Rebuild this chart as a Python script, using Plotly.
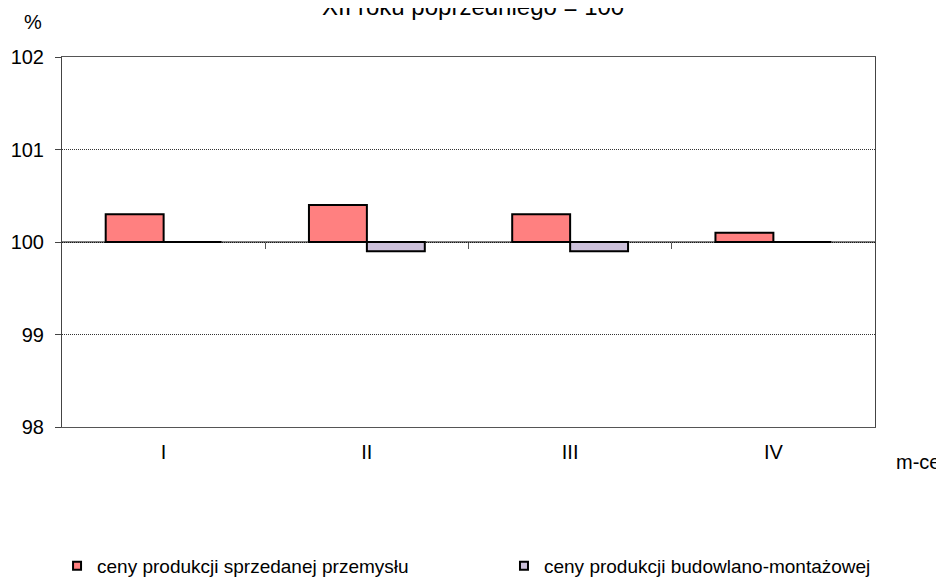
import plotly.graph_objects as go

months = ["I", "II", "III", "IV"]
przemysl = [100.3, 100.4, 100.3, 100.1]
budowlane = [100.0, 99.9, 99.9, 100.0]
y_ticks = [98, 99, 100, 101, 102]
names = ["ceny produkcji sprzedanej przemysłu", "ceny produkcji budowlano-montażowej"]
colors = ["#FF8080", "#CCC0DA"]
BASE = 100

FONT = "Liberation Sans, Arial, sans-serif"

fig = go.Figure()
for i, (vals, nm, col) in enumerate(zip([przemysl, budowlane], names, colors)):
    fig.add_trace(go.Bar(
        x=months, y=[v - BASE for v in vals], base=BASE, name=nm,
        marker=dict(color=col, line=dict(color="black", width=2)),
        showlegend=False, hoverinfo="skip",
    ))
    fig.add_trace(go.Scatter(
        x=[None], y=[None], mode="markers", name=nm,
        legend="legend" if i == 0 else "legend2",
        marker=dict(symbol="square", size=8, color=col, line=dict(color="black", width=2)),
    ))

# helper axis for the crossing line at 100 with tick marks between categories
fig.add_trace(go.Scatter(x=[-0.5, 3.5], y=[BASE, BASE], xaxis="x2", mode="lines",
                         line=dict(color="black", width=1), showlegend=False, hoverinfo="skip"))

leg_common = dict(orientation="h", xref="container", yref="container", xanchor="left",
                  y=0.0228, yanchor="middle", font=dict(size=19),
                  itemclick=False, itemdoubleclick=False, bgcolor="rgba(0,0,0,0)")

fig.update_layout(
    width=936, height=571,
    margin=dict(l=54, r=69, t=49, b=152, autoexpand=False),
    paper_bgcolor="white", plot_bgcolor="white",
    font=dict(family=FONT, size=20, color="black"),
    barmode="group", bargap=0.43, bargroupgap=0,
    xaxis=dict(type="category", showline=True, linecolor="#555", linewidth=1, mirror=True,
               ticks="", showgrid=False, tickfont=dict(size=20), ticklabelstandoff=7,
               automargin=False),
    xaxis2=dict(overlaying="x", range=[-0.5, 3.5], anchor="free", position=0.5,
                showline=False, ticks="outside", ticklen=6, tickcolor="#555",
                tickvals=[0.5, 1.5, 2.5], showticklabels=False, showgrid=False, zeroline=False,
                automargin=False),
    yaxis=dict(range=[98, 102], tickvals=y_ticks, showline=True, linecolor="#444", linewidth=1,
               mirror=True, ticks="outside", ticklen=6, tickcolor="#444", ticklabelstandoff=7,
               showgrid=True, gridcolor="#333", griddash="1px,1px", gridwidth=1, zeroline=False,
               tickfont=dict(size=20), automargin=False),
    legend=dict(x=0.0524, **leg_common),
    legend2=dict(x=0.5299, **leg_common),
    annotations=[
        dict(text="XII roku poprzedniego = 100", xref="paper", yref="paper", x=0.5055, y=1,
             yshift=51, xanchor="center", yanchor="middle", showarrow=False, font=dict(size=24)),
        dict(text="%", xref="paper", yref="paper", x=0, xshift=-40, y=1, yshift=35,
             xanchor="left", yanchor="middle", showarrow=False, font=dict(size=20)),
        dict(text="m-ce", xref="paper", yref="paper", x=1, xshift=19, y=0, yshift=-35,
             xanchor="left", yanchor="middle", showarrow=False, font=dict(size=20)),
    ],
)

fig.write_html("out.html")
